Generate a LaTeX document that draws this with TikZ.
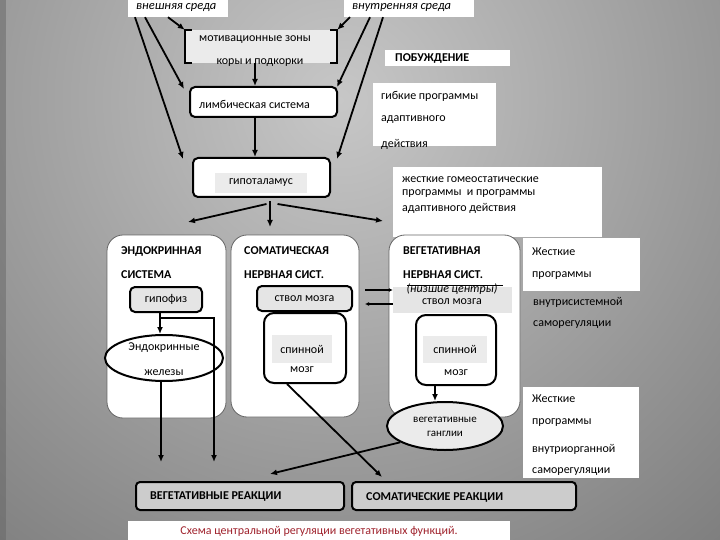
\documentclass[tikz,border=0pt]{standalone}
\usepackage{fontspec}
\setmainfont{Carlito}
\usetikzlibrary{arrows.meta,shapes.geometric}
\definecolor{capred}{RGB}{160,35,45}
\pgfdeclareradialshading{bgshade}{\pgfpoint{0bp}{0bp}}{color(0bp)=(black!22); color(50bp)=(black!90)}

\begin{document}
\begin{tikzpicture}[x=1pt,y=-1pt,
  txt/.style={font=\fontsize{12}{14}\selectfont,inner sep=0pt},
  smalltxt/.style={font=\fontsize{11}{13}\selectfont,inner sep=0pt},
  bold/.style={font=\fontsize{12}{14}\selectfont\bfseries,inner sep=0pt},
  itxt/.style={font=\fontsize{12.5}{14}\selectfont\itshape,inner sep=0pt},
  wbox/.style={fill=white,inner sep=0pt},
  rbox/.style={draw,line width=2pt,rounded corners=5pt,fill=white,inner sep=0pt},
  bigbox/.style={draw=black!60,line width=0.8pt,rounded corners=16pt,fill=white},
  arr/.style={-{Latex[length=7pt,width=6pt]},line width=1.8pt},
  arrs/.style={-{Latex[length=4pt,width=4pt]},line width=1.6pt}]
\begin{scope}
\clip (0,0) rectangle (720,540);
\shade[shading=bgshade] (340,100) circle (700);
\fill[black!60,opacity=.5] (0,0) rectangle (6,540);
\end{scope}
\useasboundingbox (0,0) rectangle (720,540);

\node[wbox,minimum width=100pt,minimum height=17pt] (ext) at (178,8.5) {};
\node[itxt,anchor=west] (extT) at (136,8) {внешняя среда};
\node[wbox,minimum width=130pt,minimum height=17pt] (int) at (409,8.5) {};
\node[itxt,anchor=west] (intT) at (352,8) {внутренняя среда};

\node[fill=black!8,minimum width=152pt,minimum height=33pt] (motiv) at (261,46.5) {};
\draw[line width=1.8pt] ([shift={(7,0)}]motiv.north west) -- (motiv.north west) -- (motiv.south west) -- ([shift={(7,0)}]motiv.south west);
\draw[line width=1.8pt] ([shift={(-7,0)}]motiv.north east) -- (motiv.north east) -- (motiv.south east) -- ([shift={(-7,0)}]motiv.south east);
\node[txt] (motivA) at (255,40) {мотивационные зоны};
\node[txt] (motivB) at (260,63) {коры и подкорки};

\node[wbox,minimum width=125pt,minimum height=16pt] (urge) at (447.5,58) {};
\node[bold,anchor=west] (urgeT) at (395,58) {ПОБУЖДЕНИЕ};
\node[wbox,minimum width=123pt,minimum height=63pt] (flex) at (434.5,114.5) {};
\node[txt,anchor=west] (flexA) at (381,96) {гибкие программы};
\node[txt,anchor=west] (flexB) at (381,120) {адаптивного};
\node[txt,anchor=west] (flexC) at (381,144) {действия};

\node[rbox,minimum width=147pt,minimum height=30pt] (limbic) at (263.5,102) {};
\node[txt,anchor=west] (limbicT) at (199,104) {лимбическая система};
\node[rbox,minimum width=137pt,minimum height=39pt] (hypo) at (261.5,177.5) {};
\node[txt,fill=black!8,minimum width=92pt,minimum height=20pt] (hypoT) at (261,183) {гипоталамус};

\node[wbox,minimum width=209pt,minimum height=70pt] (rigidA) at (497.5,202) {};
\node[txt,anchor=west] (rigidA1) at (402,180) {жесткие гомеостатические};
\node[txt,anchor=west] (rigidA2) at (402,194) {программы\ \ и программы};
\node[txt,anchor=west] (rigidA3) at (402,208) {адаптивного действия};

\node[bigbox,minimum width=119pt,minimum height=183pt] (endo) at (166.5,326.5) {};
\node[bigbox,minimum width=128pt,minimum height=182pt] (soma) at (295,326) {};
\node[bigbox,minimum width=131pt,minimum height=182pt] (veg) at (454.5,326) {};
\node[bold,anchor=west] (endoA) at (121,251) {ЭНДОКРИННАЯ};
\node[bold,anchor=west] (endoB) at (121,275) {СИСТЕМА};
\node[bold,anchor=west] (somaA) at (244,251) {СОМАТИЧЕСКАЯ};
\node[bold,anchor=west] (somaB) at (244,275) {НЕРВНАЯ СИСТ.};
\node[bold,anchor=west] (vegA) at (403,251) {ВЕГЕТАТИВНАЯ};
\node[bold,anchor=west] (vegB) at (403,275) {НЕРВНАЯ СИСТ.};

\node[rbox,txt,fill=black!10,minimum width=72pt,minimum height=25pt] (pit) at (166,299.5) {гипофиз};
\node[ellipse,draw,line width=2pt,fill=white,minimum width=118pt,minimum height=46pt] (glands) at (164,358) {};
\node[txt] (glandsA) at (164,348) {Эндокринные};
\node[txt] (glandsB) at (164,373) {железы};

\node[rbox,txt,fill=black!10,minimum width=95pt,minimum height=25pt] (stemS) at (304.5,298.5) {ствол мозга};
\node[rbox,rounded corners=10pt,minimum width=82pt,minimum height=70pt] (cordS) at (305,348) {};
\node[txt,fill=black!8,minimum width=60pt,minimum height=28pt] (cordSA) at (302,349) {спинной};
\node[txt] (cordSB) at (302,370) {мозг};

\node[fill=black!10,minimum width=119pt,minimum height=26pt] (stemV) at (452.5,300) {};
\draw[line width=1pt] (407,285) -- (503,285);
\node[txt,font=\fontsize{12}{14}\selectfont\itshape] (lowC) at (452,289) {(низшие центры)};
\node[txt] (stemVT) at (452,302) {ствол мозга};
\node[rbox,rounded corners=10pt,minimum width=80pt,minimum height=70pt] (cordV) at (456,350) {};
\node[txt,fill=black!8,minimum width=64pt,minimum height=27pt] (cordVA) at (455,349.5) {спинной};
\node[txt] (cordVB) at (456,373) {мозг};
\node[ellipse,draw,line width=2pt,fill=black!8,minimum width=116pt,minimum height=48pt] (gang) at (445,426) {};
\node[smalltxt] (gangA) at (445,420) {вегетативные};
\node[smalltxt] (gangB) at (445,434) {ганглии};

\node[wbox,minimum width=117pt,minimum height=53pt] (rigidB) at (581.5,264.5) {};
\node[txt,anchor=west] (rigidB1) at (532,252) {Жесткие};
\node[txt,anchor=west] (rigidB2) at (532,276) {программы};
\node[txt,anchor=west] (rigidB3) at (533,302) {внутрисистемной};
\node[txt,anchor=west] (rigidB4) at (533,325) {саморегуляции};
\node[wbox,minimum width=116pt,minimum height=91pt] (rigidC) at (581,432.5) {};
\node[txt,anchor=west] (rigidC1) at (532,399) {Жесткие};
\node[txt,anchor=west] (rigidC2) at (532,423) {программы};
\node[txt,anchor=west] (rigidC3) at (532,449) {внутриорганной};
\node[txt,anchor=west] (rigidC4) at (532,472) {саморегуляции};

\node[rbox,fill=black!20,rounded corners=4pt,minimum width=208pt,minimum height=28pt] (vegR) at (240,496) {};
\node[bold,anchor=west] (vegRT) at (150,497) {ВЕГЕТАТИВНЫЕ РЕАКЦИИ};
\node[rbox,fill=black!20,rounded corners=4pt,minimum width=224pt,minimum height=28pt] (somR) at (464,496) {};
\node[bold,anchor=west] (somRT) at (366,497) {СОМАТИЧЕСКИЕ РЕАКЦИИ};
\node[wbox,txt,text=capred,minimum width=382pt,minimum height=20pt] (cap) at (319,531) {Схема центральной регуляции вегетативных функций.};

\coordinate (hEndo) at (188,222); \coordinate (hSoma) at (270,227); \coordinate (hVeg) at (383,221);
\coordinate (endoOut) at (214,462); \coordinate (glOut) at (161,462);
\coordinate (somIn) at (382,477); \coordinate (vegIn) at (270,474);
\draw[arr] ([shift={(-10,0)}]ext.south) -- (motiv.north west);
\draw[arr] ([shift={(-33,0)}]ext.south) -- ([shift={(-5,3)}]limbic.north west);
\draw[arr] ([shift={(-43,0)}]ext.south) -- ([shift={(-9,2)}]hypo.north west);
\draw[arr] ([shift={(-59,0)}]int.south) -- (motiv.north east);
\draw[arr] ([shift={(-39,0)}]int.south) -- ([shift={(-1,1)}]limbic.north east);
\draw[arr] ([shift={(-26,0)}]int.south) -- ([shift={(6,2)}]hypo.north east);
\draw[arr] ([shift={(-6,0)}]motiv.south) -- ([shift={(-8.5,0)}]limbic.north);
\draw[arr] ([shift={(-8.5,0)}]limbic.south) -- ([shift={(-6.5,0)}]hypo.north);
\draw[arr] ([shift={(5,6)}]hypo.south) -- (hEndo);
\draw[arr] ([shift={(8.5,3)}]hypo.south) -- (hSoma);
\draw[arr] ([shift={(16,6)}]hypo.south) -- (hVeg);
\draw[arr] ([shift={(-6,0)}]pit.south) -- ([shift={(-6,0)}]pit.south |- glands.north);
\draw[arr] ([shift={(-5,5)}]pit.south) -| (endoOut);
\draw[arr] ([shift={(-3,0)}]glands.south) -- (glOut);
\draw[arr] ([shift={(-18,0)}]cordS.south) -- (somIn);
\draw[arr] ([shift={(-21,0)}]cordV.south) -- ([shift={(-21,0)}]cordV.south |- gang.north);
\draw[arr] (gang.200) -- (vegIn);
\draw[arrs] ([shift={(12,-8.5)}]stemS.east) -- ([shift={(0,-10)}]stemV.west);
\draw[arrs] ([shift={(0,4)}]stemV.west) -- ([shift={(12,5.5)}]stemS.east);
\end{tikzpicture}
\end{document}
